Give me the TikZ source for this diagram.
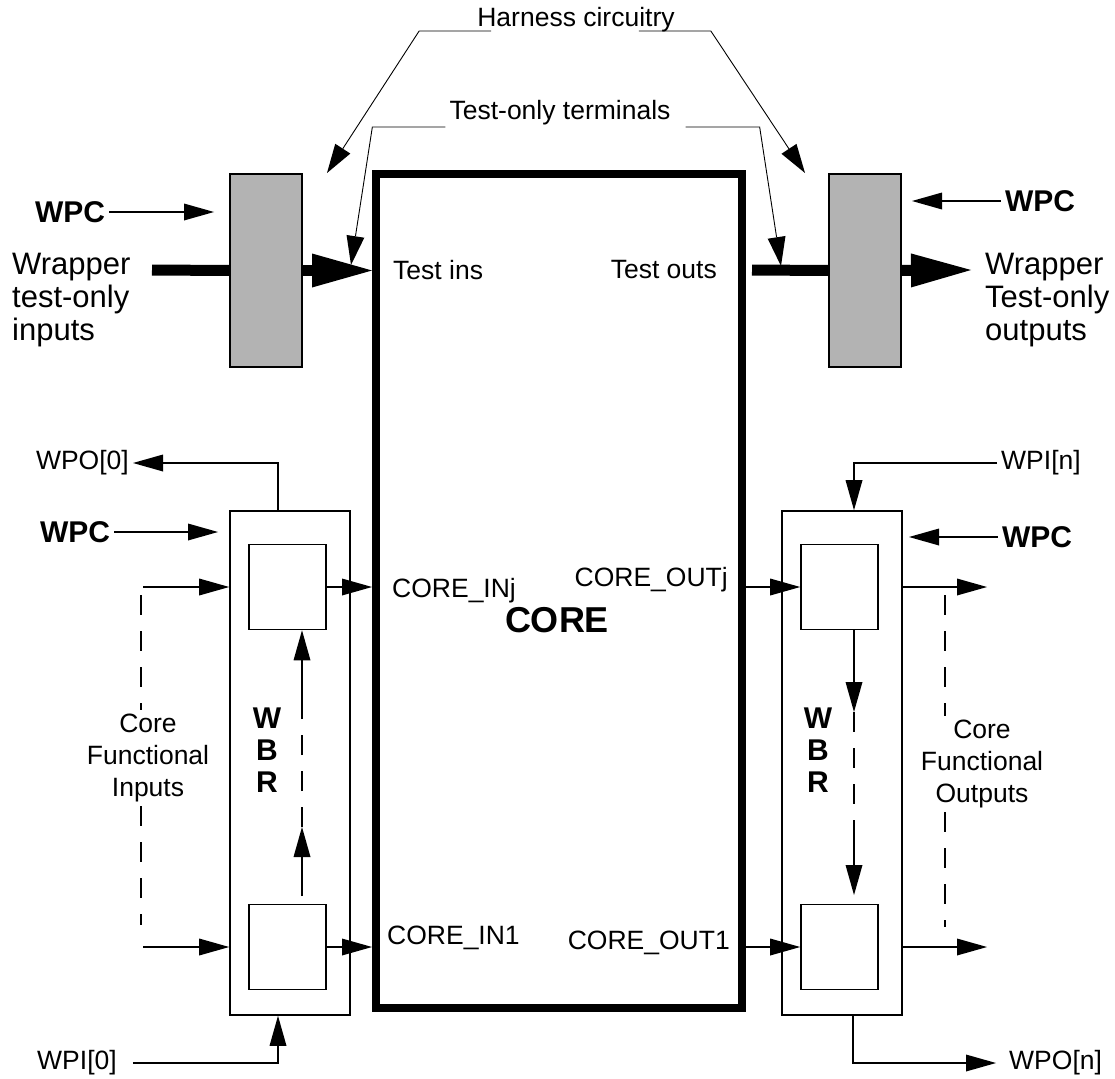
\documentclass[tikz,border=0pt]{standalone}
\usepackage{fontspec}
\setmainfont{Liberation Sans}
\usetikzlibrary{arrows.meta, positioning}
\definecolor{harnessgray}{RGB}{179,179,179}

\begin{document}
\begin{tikzpicture}[
    x=1pt, y=-1pt,
    every node/.style={font=\fontsize{26.5}{32}\selectfont, inner sep=4pt},
    corebox/.style={draw, line width=8pt, minimum width=366pt, minimum height=834pt, inner sep=0pt},
    harness/.style={draw, line width=1.6pt, fill=harnessgray, minimum width=72pt, minimum height=193pt, inner sep=0pt},
    wbrbox/.style={draw, line width=1.6pt, minimum width=120pt, minimum height=504pt, inner sep=0pt},
    cell/.style={draw, line width=1.6pt, minimum width=77pt, minimum height=85pt, inner sep=0pt},
    big/.style={font=\fontsize{31}{33}\selectfont},
    bold/.style={font=\fontsize{30}{32}\selectfont\bfseries},
    arrow/.style={-{Triangle[length=30pt, width=17pt, line width=0pt]}, line width=1.4pt},
    callout/.style={-{Triangle[length=29pt, width=18pt, line width=0pt]}, line width=0.9pt},
    bus/.style={line width=11pt},
    busarrow/.style={bus, -{Triangle[length=60pt, width=34pt, line width=0pt]}},
    fdash/.style={line width=1.4pt, dash pattern=on 20pt off 16pt}
]
    \useasboundingbox (0,0) rectangle (1115,1078);

    % core and harness blocks
    \node[corebox] (core) at (559,591) {};
    \node[font=\fontsize{36}{40}\selectfont\bfseries] (corename) at (557,620) {CORE};
    \node[harness] (hl) at (266,270.5) {};
    \node[harness] (hr) at (865,270.5) {};

    % test-only path
    \node[big, align=left, anchor=west] (win) at (8,300) {Wrapper\\test-only\\inputs};
    \node[big, align=left, anchor=west] (wout) at (981,300) {Wrapper\\Test-only\\outputs};
    \node[anchor=west] (tins) at (389,270) {Test ins};
    \node[anchor=east] (touts) at (721,270) {Test outs};
    \coordinate (busin) at (152,270);
    \coordinate (busout) at (752,270);
    \coordinate (busend) at (971,270);
    \draw[bus] (busin) -- (hl.west);
    \draw[busarrow] (hl.east) -- (core.west |- hl.east);
    \draw[bus] (busout) -- (hr.west);
    \draw[busarrow] (hr.east) -- (busend);

    % WPC controls
    \node[bold] (wpca) at (70,212) {WPC};
    \node[bold] (wpcb) at (1040,201) {WPC};
    \node[bold] (wpcc) at (75,532) {WPC};
    \node[bold] (wpcd) at (1037,537) {WPC};
    \coordinate (wpcatip) at (214,212);
    \coordinate (wpcbtip) at (912,201);
    \coordinate (wpcctip) at (218,532);
    \coordinate (wpcdtip) at (909,537);
    \draw[arrow] (wpca.east) -- (wpcatip);
    \draw[arrow] (wpcb.west) -- (wpcbtip);
    \draw[arrow] (wpcc.east) -- (wpcctip);
    \draw[arrow] (wpcd.west) -- (wpcdtip);

    % callouts
    \node[anchor=base] (hc) at (576,27) {Harness circuitry};
    \node[anchor=base] (tot) at (560,120) {Test-only terminals};
    \coordinate (hctipl) at (327,173);
    \coordinate (hctipr) at (805,173);
    \coordinate (tottipl) at (351,265);
    \coordinate (tottipr) at (781,266);
    \draw[callout] ([xshift=18pt, yshift=-4pt]hc.base west) -- ++(-72,0) -- (hctipl);
    \draw[callout] ([xshift=-40pt, yshift=-4pt]hc.base east) -- ++(72,0) -- (hctipr);
    \draw[callout] ([yshift=-7pt]tot.base west) -- ++(-73,0) -- (tottipl);
    \draw[callout] ([xshift=11pt, yshift=-7pt]tot.base east) -- ++(74,0) -- (tottipr);

    % boundary register cells
    \node[wbrbox] (wbrl) at (290,763) {};
    \node[wbrbox] (wbrr) at (842,763) {};
    \node[cell] (inj) at (287.5,587) {};
    \node[cell] (in1) at (287.5,947) {};
    \node[cell] (outj) at (839.5,587) {};
    \node[cell] (out1) at (839.5,947) {};
    \node[bold, align=center] (wbrltxt) at (267,750) {W\\B\\R};
    \node[bold, align=center] (wbrrtxt) at (818,750) {W\\B\\R};

    \node[anchor=west] (cinj) at (388,591) {CORE\_INj};
    \node[anchor=east] (coutj) at (732,580) {CORE\_OUTj};
    \node[anchor=west] (cin1) at (383,938) {CORE\_IN1};
    \node[anchor=east] (cout1) at (734,943) {CORE\_OUT1};

    \draw[arrow] (inj.east) -- (core.west |- inj.east);
    \draw[arrow] (in1.east) -- (core.west |- in1.east);
    \draw[arrow] (core.east |- outj.west) -- (outj.west);
    \draw[arrow] (core.east |- out1.west) -- (out1.west);

    % scan chain through the cells
    \coordinate (lca) at (302,896);
    \coordinate (lcb) at (302,827);
    \coordinate (lcc) at (302,713);
    \draw[arrow] (lca) -- (lcb);
    \draw[fdash] (lcb) -- (lcc);
    \draw[arrow] (lcc) -- (lcc |- inj.south);
    \coordinate (rca) at (854,712);
    \coordinate (rcb) at (854,823);
    \coordinate (rcc) at (854,895);
    \draw[arrow] (rca |- outj.south) -- (rca);
    \draw[fdash] (rca) -- (rcb);
    \draw[arrow] (rcb) -- (rcc);

    % functional inputs and outputs
    \node[align=center] (cfi) at (148,758) {Core\\Functional\\Inputs};
    \node[align=center] (cfo) at (982,764) {Core\\Functional\\Outputs};
    \coordinate (fij) at (143,587);
    \coordinate (fi1) at (143,947);
    \coordinate (foj) at (987,587);
    \coordinate (fo1) at (987,947);
    \draw[arrow] (fij) -- (wbrl.west |- fij);
    \draw[arrow] (fi1) -- (wbrl.west |- fi1);
    \draw[arrow] (wbrr.east |- foj) -- (foj);
    \draw[arrow] (wbrr.east |- fo1) -- (fo1);
    \draw[fdash] (141,595) -- (cfi.north -| 141,0);
    \draw[fdash] (cfi.south -| 141,0) -- (141,925);
    \draw[fdash] (945,595) -- (cfo.north -| 945,0);
    \draw[fdash] (cfo.south -| 945,0) -- (945,927);

    % parallel ports
    \node[anchor=east] (wpo0) at (133,463) {WPO[0]};
    \node[anchor=west] (wpi0) at (33,1063) {WPI[0]};
    \node[anchor=west] (wpin) at (997,463) {WPI[n]};
    \node[anchor=west] (wpon) at (1005,1063) {WPO[n]};
    \draw[arrow] ([xshift=-12pt]wbrl.north) |- (wpo0.east);
    \draw[arrow, shorten <=12pt] (wpi0.east) -| ([xshift=-12pt]wbrl.south);
    \draw[arrow] (wpin.west) -| ([xshift=12pt]wbrr.north);
    \draw[arrow, shorten >=9pt] ([xshift=11pt]wbrr.south) |- (wpon.west);
\end{tikzpicture}
\end{document}
